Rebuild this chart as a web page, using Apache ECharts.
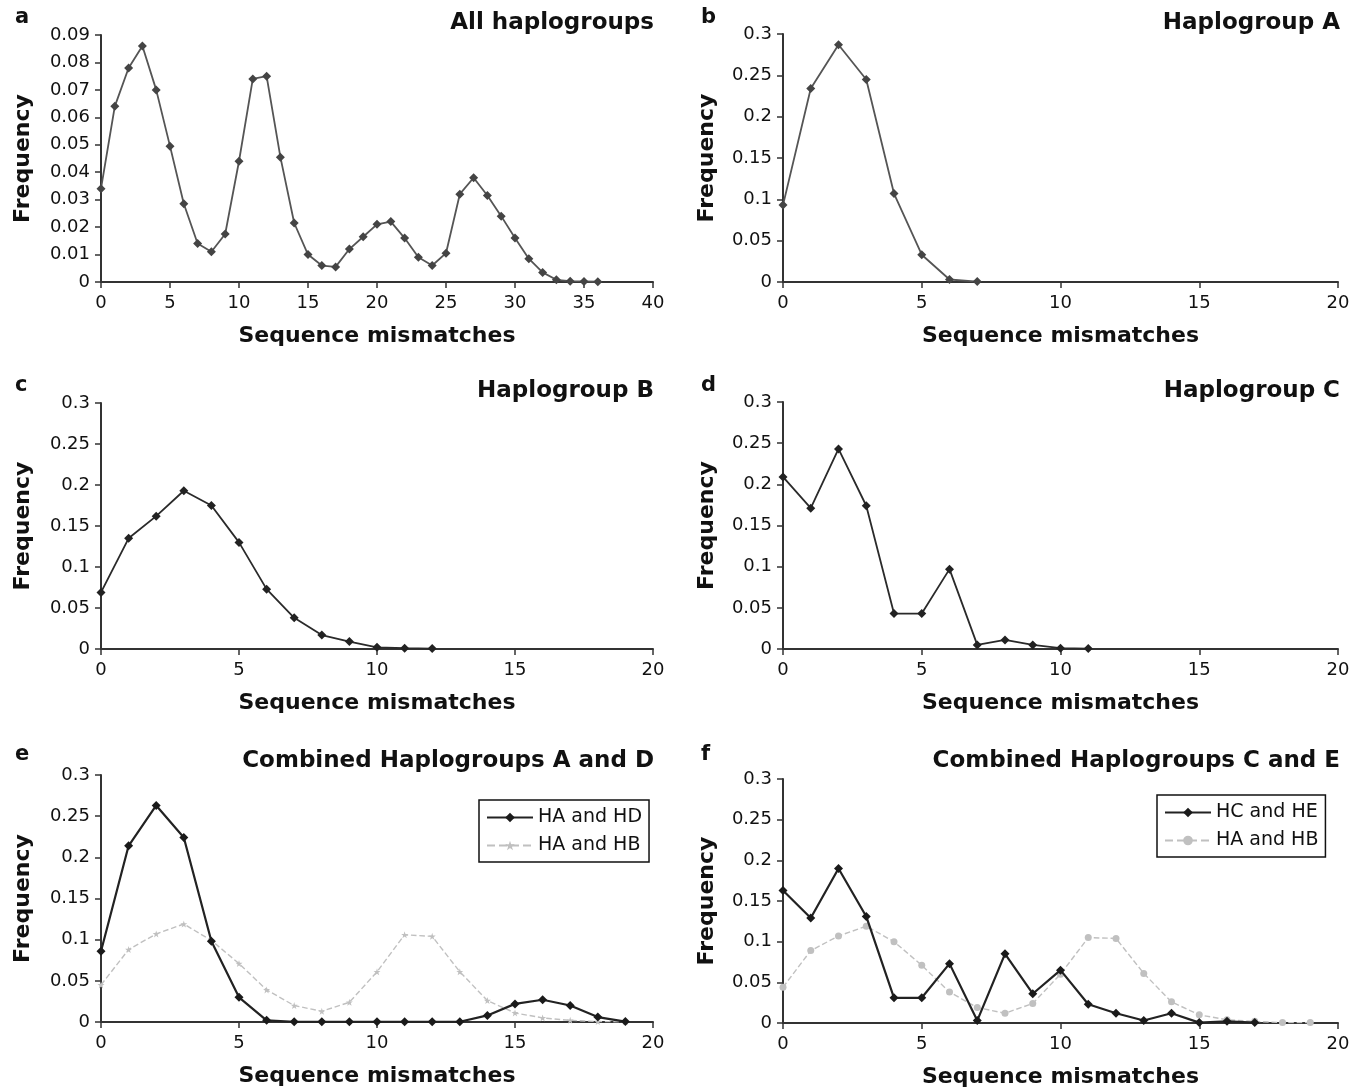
<!DOCTYPE html>
<html>
<head>
<meta charset="utf-8">
<script src="https://cdn.jsdelivr.net/npm/echarts@6/dist/echarts.min.js"></script>
<style>
html,body{margin:0;padding:0;background:#fff;}
#c{width:1361px;height:1091px;}
</style>
</head>
<body>
<div id="c"></div>
<script>
// ---- data ----
const mismatchesAll = [0,1,2,3,4,5,6,7,8,9,10,11,12,13,14,15,16,17,18,19,20,21,22,23,24,25,26,27,28,29,30,31,32,33,34,35,36];
const freqAll = [0.034,0.064,0.078,0.086,0.070,0.0495,0.0285,0.014,0.011,0.0175,0.044,0.074,0.075,0.0455,0.0215,0.010,0.006,0.0055,0.012,0.0165,0.021,0.022,0.016,0.009,0.006,0.0105,0.032,0.038,0.0315,0.024,0.016,0.0085,0.0035,0.0008,0.0003,0.0002,0.0001];

const mismatchesA = [0,1,2,3,4,5,6,7];
const freqA = [0.093,0.234,0.287,0.245,0.107,0.033,0.003,0.0005];

const mismatchesB = [0,1,2,3,4,5,6,7,8,9,10,11,12];
const freqB = [0.069,0.135,0.162,0.193,0.175,0.130,0.073,0.038,0.017,0.009,0.002,0.001,0.0005];

const mismatchesC = [0,1,2,3,4,5,6,7,8,9,10,11];
const freqC = [0.209,0.171,0.243,0.174,0.043,0.043,0.097,0.005,0.011,0.005,0.001,0.0005];

const mismatchesE = [0,1,2,3,4,5,6,7,8,9,10,11,12,13,14,15,16,17,18,19];
const freqHAHD = [0.086,0.214,0.263,0.224,0.098,0.030,0.002,0.0003,0.0003,0.0003,0.0003,0.0003,0.0003,0.0003,0.008,0.022,0.027,0.020,0.006,0.0005];
const freqHAHB_e = [0.045,0.088,0.107,0.119,0.099,0.071,0.039,0.020,0.013,0.024,0.061,0.106,0.104,0.061,0.026,0.011,0.005,0.002,0.0005,0.0003];

const mismatchesHCHE = [0,1,2,3,4,5,6,7,8,9,10,11,12,13,14,15,16,17];
const freqHCHE = [0.163,0.129,0.190,0.131,0.031,0.031,0.073,0.003,0.085,0.036,0.065,0.023,0.012,0.003,0.012,0.0005,0.002,0.0005];
const mismatchesF = [0,1,2,3,4,5,6,7,8,9,10,11,12,13,14,15,16,17,18,19];
const freqHAHB_f = [0.044,0.089,0.107,0.119,0.100,0.071,0.038,0.019,0.012,0.024,0.060,0.105,0.104,0.061,0.026,0.010,0.004,0.002,0.0005,0.0005];

const panelLetters = ['a','b','c','d','e','f'];
const panelTitles = ['All haplogroups','Haplogroup A','Haplogroup B','Haplogroup C','Combined Haplogroups A and D','Combined Haplogroups C and E'];
const xName = 'Sequence mismatches';
const yName = 'Frequency';

// ---- layout ----
const FONT = 'DejaVu Sans';
const grids = [
  {left:101, top:35, width:552, height:247},
  {left:783, top:34, width:555, height:248},
  {left:101, top:403, width:552, height:246},
  {left:783, top:402, width:555, height:247},
  {left:101, top:775, width:552, height:247},
  {left:783, top:779, width:555, height:244}
];
const xMax = [40,20,20,20,20,20];
const yMax = [0.09,0.3,0.3,0.3,0.3,0.3];
const yInt = [0.01,0.05,0.05,0.05,0.05,0.05];

const axisColor = '#333';
const xAxes = grids.map((g,i)=>({
  type:'value', gridIndex:i, min:0, max:xMax[i], interval:5,
  axisLine:{show:true, onZero:false, lineStyle:{color:axisColor, width:2}},
  axisTick:{show:true, inside:false, length:6, lineStyle:{color:axisColor, width:1.5}},
  axisLabel:{color:'#111', fontFamily:FONT, fontSize:18, margin:12},
  splitLine:{show:false},
  name:xName, nameLocation:'middle', nameGap:43,
  nameTextStyle:{color:'#111', fontFamily:FONT, fontSize:22, fontWeight:'bold'}
}));
const yAxes = grids.map((g,i)=>({
  type:'value', gridIndex:i, min:0, max:yMax[i], interval:yInt[i],
  axisLine:{show:true, lineStyle:{color:axisColor, width:2}},
  axisTick:{show:true, inside:false, length:6, lineStyle:{color:axisColor, width:1.5}},
  axisLabel:{color:'#111', fontFamily:FONT, fontSize:18, margin:11},
  splitLine:{show:false},
  name:yName, nameLocation:'middle', nameGap: i%2===0 ? 67 : 65,
  nameTextStyle:{color:'#111', fontFamily:FONT, fontSize:22, fontWeight:'bold'}
}));

function pairs(xs, ys){ return xs.map((x,k)=>[x, ys[k]]); }
const starPath = 'path://M5,0 L6.2,3.8 L10,3.8 L7,6.2 L8.1,10 L5,7.7 L1.9,10 L3,6.2 L0,3.8 L3.8,3.8 Z';

function darkSeries(name, idx, data, lineColor, markColor, w){
  return {type:'line', name:name, xAxisIndex:idx, yAxisIndex:idx, data:data,
    symbol:'diamond', symbolSize:9, showSymbol:true,
    lineStyle:{color:lineColor, width:w||1.8},
    itemStyle:{color:markColor}, animation:false, z:3};
}
function lightSeries(name, idx, data, sym){
  return {type:'line', name:name, xAxisIndex:idx, yAxisIndex:idx, data:data,
    symbol:sym, symbolSize:7, showSymbol:true,
    lineStyle:{color:'#c0c0c0', width:1.4, type:'dashed'},
    itemStyle:{color:'#c0c0c0'}, animation:false, z:2};
}

const series = [
  darkSeries('All', 0, pairs(mismatchesAll, freqAll), '#555', '#444'),
  darkSeries('HA', 1, pairs(mismatchesA, freqA), '#555', '#444'),
  darkSeries('HB', 2, pairs(mismatchesB, freqB), '#2a2a2a', '#222'),
  darkSeries('HC', 3, pairs(mismatchesC, freqC), '#2a2a2a', '#222'),
  lightSeries('HA and HB', 4, pairs(mismatchesE, freqHAHB_e), starPath),
  darkSeries('HA and HD', 4, pairs(mismatchesE, freqHAHD), '#222', '#1a1a1a', 2.2),
  lightSeries('HA and HB ', 5, pairs(mismatchesF, freqHAHB_f), 'circle'),
  darkSeries('HC and HE', 5, pairs(mismatchesHCHE, freqHCHE), '#222', '#1a1a1a', 2.2)
];

const titles = [];
const letterPos = [[10,2],[696,2],[10,370],[696,370],[10,739],[696,739]];
panelLetters.forEach((l,i)=>{
  titles.push({text:l, left:letterPos[i][0], top:letterPos[i][1],
    textStyle:{fontFamily:FONT, fontSize:21, fontWeight:'bold', color:'#111'}});
});
const titleRight = [[702,7],[16,7],[702,375],[16,375],[702,745],[16,745]];
panelTitles.forEach((t,i)=>{
  titles.push({text:t, right:titleRight[i][0], top:titleRight[i][1],
    textStyle:{fontFamily:FONT, fontSize:23, fontWeight:'bold', color:'#111'}});
});

const legendStyle = {
  orient:'vertical', backgroundColor:'#fff', borderColor:'#111', borderWidth:1.5,
  padding:[8,7,7,7], itemGap:9, itemWidth:46, itemHeight:12,
  textStyle:{fontFamily:FONT, fontSize:19, color:'#111', lineHeight:19}
};

const option = {
  backgroundColor:'#fff',
  animation:false,
  title:titles,
  grid:grids.map(g=>Object.assign({containLabel:false}, g)),
  xAxis:xAxes,
  yAxis:yAxes,
  legend:[
    Object.assign({}, legendStyle, {data:['HA and HD','HA and HB'], left:479, top:800}),
    Object.assign({}, legendStyle, {data:['HC and HE','HA and HB '], left:1157, top:795,
      formatter:n=>n.trim()})
  ],
  series:series
};

const chart = echarts.init(document.getElementById('c'), null, {renderer:'canvas'});
chart.setOption(option);
</script>
</body>
</html>
